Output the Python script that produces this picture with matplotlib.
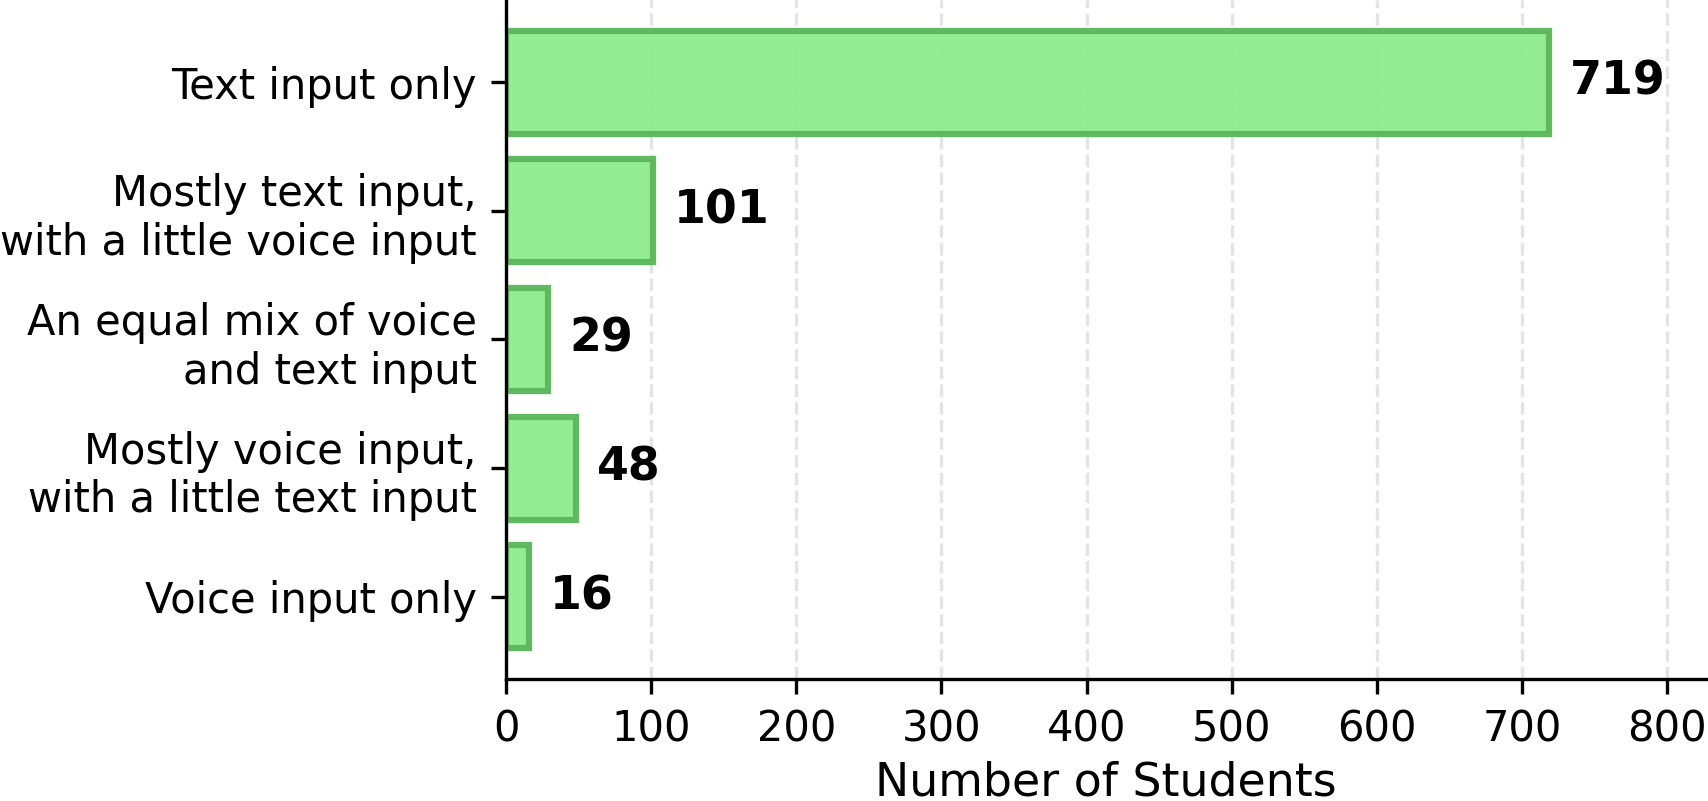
import matplotlib
matplotlib.use("Agg")
import matplotlib.pyplot as plt

categories = [
    "Text input only",
    "Mostly text input,\nwith a little voice input",
    "An equal mix of voice\nand text input",
    "Mostly voice input,\nwith a little text input",
    "Voice input only",
]
counts = [719, 101, 29, 48, 16]
xticks = [0, 100, 200, 300, 400, 500, 600, 700, 800]

fig = plt.figure(figsize=(1708 / 300, 801 / 300), dpi=300)
ax = fig.add_axes([506 / 1708, 1 - 679 / 801, 1200 / 1708, 679 / 801])

ypos = list(range(len(categories)))
ax.barh(ypos, counts, height=0.8, color="#90EE90", edgecolor="#5cb85c",
        linewidth=1.5, alpha=0.97, zorder=2)
ax.set_yticks(ypos)
ax.set_yticklabels(categories, fontsize=10)
ax.invert_yaxis()

offset = max(counts) * 0.02
for y, v in zip(ypos, counts):
    ax.text(v + offset, y, str(v), ha="left", va="center",
            fontsize=11, fontweight="bold", zorder=3)

ax.set_xlim(0, max(counts) * 1.15)
ax.set_xticks(xticks)
ax.tick_params(axis="x", labelsize=10)
ax.set_xlabel("Number of Students", fontsize=11, labelpad=2.5)
ax.xaxis.grid(True, linestyle="--", color="#d9d9d9", linewidth=0.8, alpha=0.7, zorder=0)
ax.set_axisbelow(True)
ax.spines["top"].set_visible(False)
ax.spines["right"].set_visible(False)

fig.savefig("out.png", dpi=300)
